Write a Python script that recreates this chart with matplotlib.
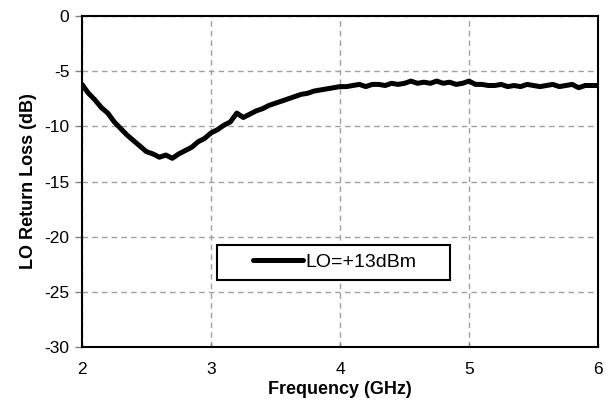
import matplotlib.pyplot as plt
import numpy as np
from matplotlib.patches import Rectangle

plt.rcParams["font.family"] = ["Liberation Sans", "DejaVu Sans"]
plt.rcParams["axes.unicode_minus"] = False

# frequency (GHz) and LO return loss (dB)
freq_ghz = np.round(np.arange(2.0, 6.0001, 0.05), 2)
return_loss = [
    -6.2, -7.0, -7.6, -8.3, -8.8, -9.6, -10.2, -10.8, -11.3, -11.8,
    -12.3, -12.5, -12.8, -12.6, -12.9, -12.5, -12.2, -11.9, -11.4, -11.1,
    -10.6, -10.3, -9.9, -9.6, -8.8, -9.2, -8.9, -8.6, -8.4, -8.1,
    -7.9, -7.7, -7.5, -7.3, -7.1, -7.0, -6.8, -6.7, -6.6, -6.5,
    -6.4, -6.4, -6.3, -6.2, -6.4, -6.2, -6.2, -6.3, -6.1, -6.2,
    -6.1, -5.9, -6.1, -6.0, -6.1, -5.9, -6.1, -6.0, -6.2, -6.1,
    -5.9, -6.2, -6.2, -6.3, -6.3, -6.2, -6.4, -6.3, -6.4, -6.2,
    -6.3, -6.4, -6.3, -6.2, -6.4, -6.3, -6.2, -6.5, -6.3, -6.3,
    -6.3,
]
x_ticks = [2, 3, 4, 5, 6]
y_ticks = [0, -5, -10, -15, -20, -25, -30]
series_label = "LO=+13dBm"

fig = plt.figure(figsize=(6.06, 4.05), dpi=100)
ax = fig.add_axes([0.1353, 0.1432, 0.8515, 0.8173])

ax.plot(freq_ghz, return_loss, color="black", lw=3.6, solid_joinstyle="round",
        solid_capstyle="round", label=series_label)

ax.set_xlim(2, 6)
ax.set_ylim(-30, 0)
ax.set_xticks(x_ticks)
ax.set_yticks(y_ticks)
ax.grid(True, color="#a0a0a0", ls=(0, (4, 3)), lw=1.0)
for s in ax.spines.values():
    s.set_color("black")
    s.set_linewidth(1.5)
ax.tick_params(axis="y", direction="out", length=5, width=1, labelsize=12.5,
               pad=4, color="#808080")
ax.tick_params(axis="x", direction="in", length=3, width=1, labelsize=12.5,
               pad=11, color="#808080")

ax.set_xlabel("Frequency (GHz)", fontsize=13, fontweight="bold", labelpad=3)
ax.set_ylabel("LO Return Loss (dB)", fontsize=13, fontweight="bold", labelpad=5)

# legend box drawn separately so it can be wider than its content
ax.add_patch(Rectangle((0.2616, 0.2024), 0.4516, 0.1058, transform=ax.transAxes,
                       facecolor="white", edgecolor="black", lw=1.5, zorder=4))
leg = ax.legend(loc="center", bbox_to_anchor=(0.4893, 0.257), fontsize=14,
                frameon=False, handlelength=2.6, handletextpad=0.1,
                borderpad=0, borderaxespad=0)
leg.set_zorder(5)

fig.savefig("out.png", dpi=100)
